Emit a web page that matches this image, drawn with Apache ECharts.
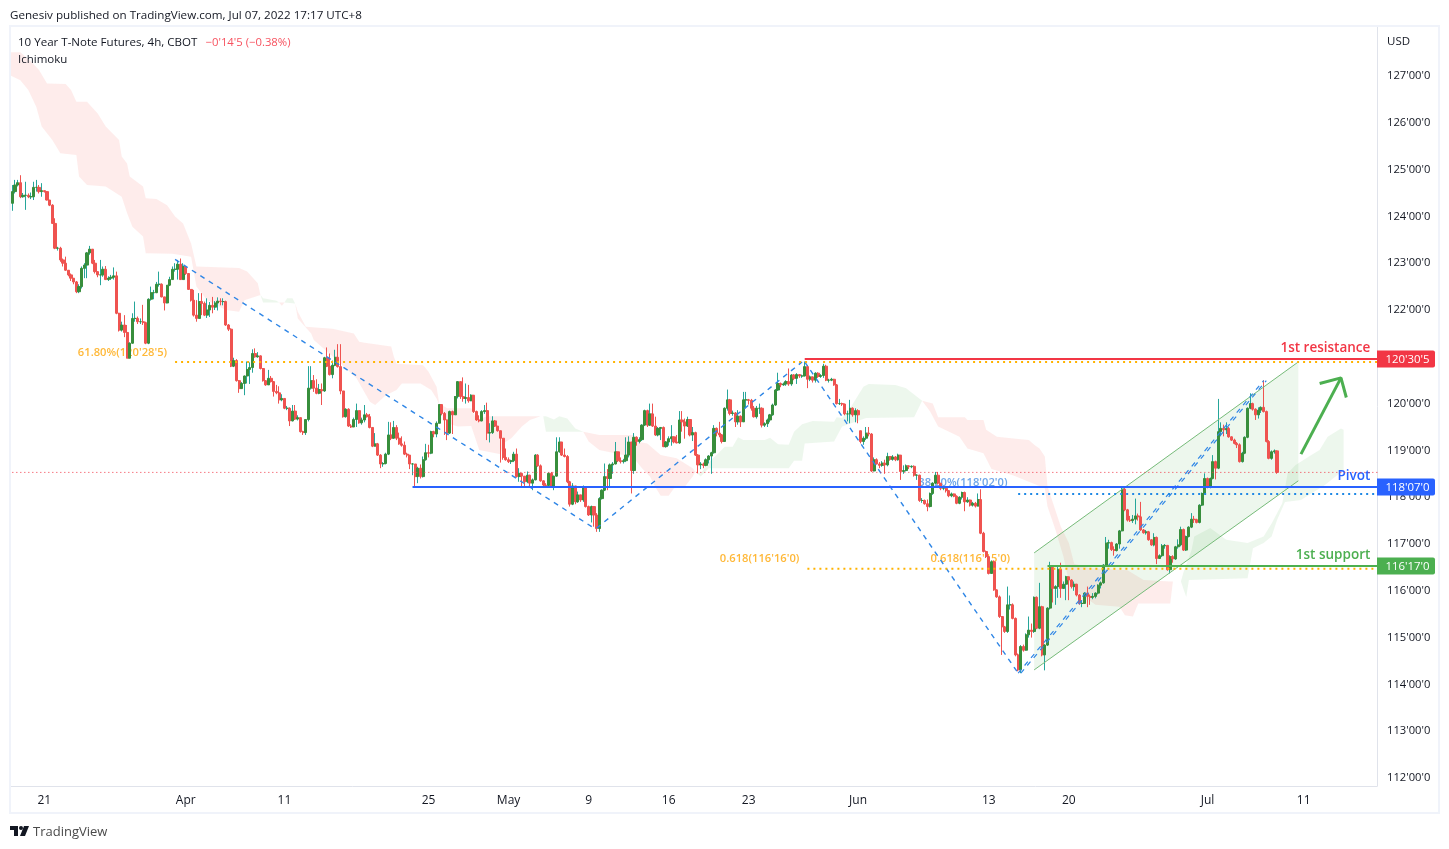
<!DOCTYPE html>
<html><head><meta charset="utf-8">
<style>html,body{margin:0;padding:0;background:#fff}#c{width:1449px;height:849px}</style>
<script src="https://cdn.jsdelivr.net/npm/echarts@6/dist/echarts.min.js"></script>
</head><body><div id="c"></div>
<script>
const firstOpen=124.28;
const gapOpens={318:119.42};
const closes=[
124.53,124.67,124.72,124.42,124.45,124.45,124.42,124.42,124.62,124.62,
124.53,124.55,124.53,124.35,124.24,123.85,123.32,123.32,123.07,123.00,
122.85,122.75,122.68,122.60,122.39,122.50,122.89,122.96,123.22,123.30,
123.00,122.82,122.75,122.75,122.87,122.65,122.68,122.70,122.73,121.93,
121.57,121.68,121.52,120.97,121.29,121.82,121.82,121.75,121.75,121.73,
121.29,122.23,122.37,122.37,122.55,122.55,122.28,122.15,122.53,122.65,
122.87,122.87,122.98,122.65,122.93,122.78,122.44,122.21,121.89,121.82,
122.18,122.14,121.89,122.00,122.10,122.06,122.15,122.19,122.18,122.18,
121.68,121.59,120.80,120.92,120.49,120.32,120.43,120.59,120.73,120.77,
121.07,121.00,121.02,120.75,120.49,120.40,120.54,120.47,120.26,120.23,
120.08,120.11,119.90,119.90,119.63,119.84,119.67,119.70,119.40,119.38,
119.66,120.33,120.49,120.33,120.22,120.30,120.27,120.98,120.80,120.62,
120.82,120.99,120.79,120.27,119.72,119.88,119.52,119.50,119.66,119.85,
119.59,119.65,119.76,119.72,119.49,119.09,119.14,118.90,118.71,118.72,
118.92,119.33,119.26,119.49,119.26,119.14,119.11,118.92,118.90,118.71,
118.71,118.44,118.62,118.44,118.80,118.95,118.94,119.40,119.35,119.58,
119.98,119.79,119.65,119.37,119.83,119.76,120.15,120.47,120.15,120.11,
120.13,120.06,120.18,119.83,119.65,119.63,119.83,119.85,119.37,119.38,
119.63,119.52,119.42,119.26,118.85,118.80,118.76,118.78,118.92,118.44,
118.51,118.45,118.33,118.47,118.30,118.37,118.90,118.67,118.35,118.26,
118.25,118.51,118.22,118.45,118.97,119.18,118.90,118.87,118.33,117.85,
118.24,117.90,118.05,117.94,118.22,117.80,117.62,117.80,117.62,117.33,
117.97,118.15,118.44,118.40,118.69,118.71,118.97,118.78,118.76,118.78,
118.90,119.18,118.57,119.28,119.19,119.23,119.54,119.85,119.54,119.78,
119.52,119.33,119.47,119.49,119.08,119.18,119.25,119.29,119.18,119.16,
119.65,119.61,119.52,119.66,119.33,119.38,118.90,118.69,118.71,118.68,
118.80,118.88,118.95,119.47,119.37,119.33,119.19,119.90,120.08,119.79,
119.80,119.61,119.73,119.61,120.08,120.08,120.07,119.90,119.72,119.90,
119.90,119.54,119.57,119.65,119.76,119.97,120.29,120.43,120.40,120.42,
120.47,120.42,120.61,120.54,120.62,120.59,120.59,120.79,120.52,120.57,
120.50,120.65,120.58,120.60,120.80,120.50,120.50,120.52,120.40,120.00,
120.00,119.99,119.78,119.78,119.90,119.76,119.85,119.76,119.19,119.26,
119.37,119.35,118.56,118.80,118.71,118.68,118.73,118.69,118.87,118.81,
118.86,118.80,118.90,118.55,118.57,118.67,118.65,118.66,118.47,118.47,
117.93,117.93,117.86,117.80,118.08,118.30,118.47,118.30,118.19,118.19,
118.14,118.03,118.07,118.02,117.87,118.00,118.10,117.90,117.94,117.83,
117.87,117.81,117.95,117.23,116.84,116.73,116.37,116.62,116.02,115.87,
115.45,115.23,115.13,115.70,115.70,115.41,114.63,114.31,114.81,114.73,
115.06,115.16,115.13,115.86,115.20,115.66,114.63,114.84,115.63,116.50,
116.05,116.09,116.46,116.05,116.14,116.30,116.23,116.09,116.14,115.91,
115.73,115.73,115.95,115.88,115.86,115.88,115.95,116.12,116.17,116.55,
117.02,117.03,116.88,116.86,117.00,117.28,118.17,117.73,117.51,117.50,
117.53,117.60,117.58,117.30,117.24,117.26,117.09,116.98,117.14,116.69,
116.75,116.96,116.97,116.45,116.73,116.68,116.94,116.98,117.31,116.87,
117.16,117.36,117.53,117.52,117.46,117.83,118.08,118.40,118.21,118.40,
118.76,118.62,119.40,119.47,119.44,119.47,119.29,119.22,119.15,119.12,
118.76,118.94,119.28,119.90,120.00,119.88,119.76,119.86,119.92,119.83,
119.19,118.83,118.97,118.99,118.53];
const highs=[
124.67,124.78,124.78,124.88,124.50,124.74,124.49,124.51,124.74,124.78,
124.67,124.71,124.55,124.53,124.35,124.26,123.96,123.35,123.35,123.10,
123.14,122.85,122.78,122.68,122.62,122.55,122.93,123.00,123.24,123.37,
123.30,123.07,122.82,123.07,122.93,122.94,122.72,122.75,122.91,122.82,
121.94,121.75,121.89,121.68,121.31,121.93,122.18,121.86,121.82,122.11,
121.75,122.25,122.50,122.43,122.60,122.82,122.57,122.28,122.53,122.71,
122.93,123.00,123.07,123.10,123.00,122.89,122.65,122.44,122.43,122.21,
122.36,122.36,122.18,122.25,122.17,122.28,122.19,122.27,122.25,122.25,
122.20,121.70,121.61,120.98,120.95,120.50,120.46,120.60,120.90,120.88,
121.16,121.18,121.10,121.03,120.76,120.50,120.72,120.59,120.48,120.40,
120.37,120.20,120.00,119.95,119.92,119.97,119.97,119.75,119.70,119.42,
119.66,120.80,120.80,120.61,120.52,120.42,120.43,121.00,121.20,121.07,
120.92,121.15,121.27,121.27,120.27,119.90,119.90,119.56,119.70,120.00,
119.85,119.70,119.97,119.80,119.78,119.49,119.37,119.16,118.92,118.75,
118.95,119.61,119.60,119.63,119.54,119.38,119.30,119.19,118.95,118.90,
118.73,118.71,118.65,118.70,118.87,119.14,119.12,119.42,119.42,119.62,
119.98,119.98,119.82,119.66,119.85,119.85,120.16,120.47,120.47,120.56,
120.43,120.40,120.20,120.18,119.85,119.75,119.86,119.97,120.02,119.58,
119.73,119.65,119.47,119.30,119.26,119.04,118.85,118.80,118.97,119.04,
118.62,118.52,118.45,118.55,118.48,118.40,118.92,118.92,118.70,118.36,
118.30,118.53,118.54,118.46,119.28,119.28,119.15,119.04,118.90,118.35,
118.30,118.20,118.12,118.05,118.25,118.22,117.82,117.82,117.80,117.66,
118.00,118.17,118.72,118.60,118.72,118.75,119.18,118.94,118.85,118.82,
119.28,119.30,119.18,119.37,119.30,119.28,119.56,119.87,119.87,120.00,
120.00,119.72,119.50,119.50,119.51,119.20,119.30,119.54,119.30,119.33,
119.84,119.84,119.68,119.72,119.66,119.50,119.40,118.92,118.75,118.74,
118.83,118.90,118.97,119.54,119.49,119.61,119.35,119.92,120.30,120.10,
119.85,119.82,119.86,119.75,120.25,120.25,120.10,120.10,119.95,119.95,
120.00,119.92,119.60,119.68,119.78,120.00,120.31,120.66,120.45,120.45,
120.50,120.75,120.63,120.63,120.65,120.63,120.62,120.90,120.82,120.60,
120.58,120.67,120.67,120.63,120.85,120.83,120.53,120.55,120.53,120.42,
120.10,120.02,120.00,119.85,120.08,119.92,119.90,119.88,119.42,119.30,
119.50,119.50,119.37,118.85,118.83,118.75,118.77,118.80,118.95,118.88,
118.90,118.88,118.93,118.90,118.68,118.70,118.68,118.68,118.68,118.49,
118.48,117.98,117.95,117.95,118.10,118.32,118.54,118.54,118.30,118.22,
118.20,118.15,118.10,118.08,118.04,118.02,118.12,118.12,118.00,117.95,
117.90,117.90,118.08,118.17,117.26,116.86,116.75,116.65,116.65,116.03,
115.90,115.46,115.25,116.09,115.90,115.73,115.43,114.66,114.84,114.85,
115.09,115.45,115.30,115.88,115.88,116.17,115.68,114.86,115.65,116.62,
116.52,116.12,116.55,116.60,116.20,116.32,116.30,116.25,116.20,116.15,
115.93,115.80,115.97,116.09,115.92,115.95,115.97,116.14,116.20,116.57,
117.15,117.09,117.05,116.95,117.02,117.30,118.20,118.23,117.75,117.60,
117.62,117.97,117.65,117.90,117.32,117.30,117.28,117.10,117.23,117.16,
116.78,117.00,117.00,116.98,116.76,116.76,116.96,117.10,117.37,117.33,
117.18,117.38,117.66,117.60,117.54,117.85,118.10,118.51,118.42,118.42,
118.90,118.78,120.10,119.60,119.55,119.60,119.50,119.30,119.25,119.18,
119.15,118.97,119.30,119.92,120.22,120.02,119.90,119.92,119.94,120.50,
119.85,119.22,119.00,119.02,119.00];
const lows=[
124.12,124.49,124.64,124.39,124.40,124.14,124.39,124.37,124.35,124.53,
124.49,124.42,124.51,124.34,124.22,123.84,123.30,123.27,123.03,122.93,
122.84,122.72,122.62,122.55,122.36,122.36,122.46,122.68,122.68,123.18,
122.98,122.78,122.70,122.53,122.71,122.64,122.62,122.64,122.65,121.91,
121.54,121.54,121.42,120.97,120.97,121.28,121.75,121.70,121.70,121.68,
121.27,121.27,122.20,122.23,122.36,122.50,122.27,121.99,122.14,122.51,
122.65,122.82,122.65,122.65,122.65,122.75,122.43,122.18,121.86,121.75,
121.82,121.89,121.87,121.83,121.85,121.93,122.00,121.99,122.10,122.10,
121.66,121.55,120.78,120.78,120.47,120.23,120.32,120.18,120.43,120.42,
120.66,120.98,120.98,120.73,120.47,120.38,120.42,120.45,120.15,120.20,
120.00,120.05,119.88,119.86,119.52,119.62,119.65,119.64,119.38,119.33,
119.33,119.62,120.30,120.25,120.20,120.20,119.97,120.25,120.78,120.60,
120.54,120.80,120.77,120.20,119.70,119.70,119.50,119.48,119.50,119.50,
119.57,119.55,119.60,119.70,119.47,119.07,119.08,118.88,118.62,118.65,
118.70,118.90,119.22,119.25,119.22,119.12,119.08,118.90,118.85,118.60,
118.47,118.22,118.30,118.40,118.42,118.78,118.85,118.92,119.28,119.28,
119.58,119.75,119.33,119.22,119.35,119.35,119.76,120.11,120.10,120.04,
120.00,120.02,120.05,119.80,119.63,119.60,119.62,119.78,119.22,119.17,
119.35,119.50,119.40,118.74,118.80,118.78,118.73,118.71,118.75,118.42,
118.33,118.22,118.22,118.30,118.20,118.15,118.36,118.65,118.33,118.20,
118.20,118.22,118.20,118.15,118.44,118.95,118.88,118.85,118.30,117.80,
117.83,117.85,117.88,117.90,117.90,117.78,117.60,117.46,117.37,117.26,
117.26,117.95,118.13,118.15,118.22,118.50,118.70,118.75,118.72,118.72,
118.75,118.85,118.08,118.50,119.10,119.15,119.20,119.52,119.50,119.52,
119.50,119.31,119.30,119.22,119.07,119.06,119.10,119.10,119.15,119.15,
119.14,119.40,119.25,119.50,119.30,119.20,118.88,118.51,118.60,118.62,
118.66,118.72,118.50,118.93,119.30,119.28,119.15,119.18,119.85,119.75,
119.74,119.50,119.55,119.50,119.65,119.90,119.98,119.85,119.70,119.68,
119.78,119.49,119.50,119.50,119.60,119.74,119.95,120.27,120.35,120.38,
120.38,120.38,120.38,120.50,120.42,120.55,120.55,120.58,120.33,120.48,
120.45,120.45,120.55,120.55,120.55,120.48,120.45,120.48,120.38,119.98,
119.97,119.95,119.75,119.62,119.58,119.72,119.60,119.58,119.15,119.12,
119.22,119.30,118.54,118.55,118.70,118.62,118.65,118.50,118.66,118.78,
118.78,118.77,118.78,118.37,118.50,118.55,118.60,118.62,118.44,118.37,
117.90,117.88,117.84,117.70,117.78,118.05,118.28,118.27,118.15,118.15,
118.10,118.00,118.00,118.00,117.85,117.85,117.95,117.70,117.88,117.80,
117.80,117.78,117.80,117.21,116.82,116.70,116.35,116.37,116.00,115.85,
115.42,114.63,115.10,115.10,115.60,115.39,114.60,114.28,114.24,114.70,
114.72,115.00,115.00,115.10,115.18,115.18,114.60,114.30,114.82,115.60,
115.75,115.70,115.85,115.85,116.05,115.80,115.80,116.05,116.00,115.88,
115.70,115.65,115.72,115.65,115.70,115.82,115.84,115.92,116.05,116.15,
116.53,116.90,116.85,116.75,116.84,116.90,117.27,117.70,117.48,117.47,
117.45,117.42,117.50,117.28,117.22,117.20,117.07,116.96,116.95,116.57,
116.68,116.72,116.90,116.43,116.37,116.60,116.66,116.90,116.95,116.85,
116.85,117.14,117.34,117.45,117.44,117.44,117.81,118.06,118.19,118.19,
118.38,118.38,118.60,119.30,119.30,119.35,119.27,119.20,119.13,119.05,
118.74,118.74,118.92,119.26,119.88,119.85,119.65,119.68,119.80,119.81,
119.17,118.81,118.80,118.93,118.50];

const timeLabels=['21','Apr','11','25','May','9','16','23','Jun','13','20','Jul','11'];
const timeIndexes=[12,65,102,156,186,216,246,276,317,366,396,448,484];
const priceTicks=[112,113,114,115,116,117,118,119,120,122,123,124,125,126,127];

const redCloudAUpper=[[-1,127.51],[3,127.51],[7,127.31],[10,127.13],[13,126.84],[20,126.83],[22,126.70],[24,126.45],[28,126.45],[32,126.20],[35,125.92],[40,125.63],[41,125.28],[43,125.13],[44,124.85],[49,124.64],[50,124.39],[54,124.37],[58,124.24],[61,124.00],[64,123.85],[67,123.42],[69,122.93],[85,122.90],[88,122.82],[92,122.57],[93,122.32]];
const redCloudALower=[[-1,127.02],[3,126.91],[6,126.70],[9,126.34],[11,125.92],[15,125.63],[18,125.35],[24,125.31],[25,124.85],[28,124.67],[35,124.64],[41,124.42],[43,124.07],[45,123.78],[49,123.57],[50,123.21],[60,123.20],[67,123.14],[69,122.50],[73,122.21],[80,122.00],[85,121.96],[87,122.21],[93,122.32]];
const greenCloudAUpper=[[93,122.32],[94,122.25],[99,122.20],[100,122.16]];
const greenCloudALower=[[93,122.32],[94,122.16],[100,122.16]];
const redCloudSmallUpper=[[100,122.16],[102,122.16]];
const redCloudSmallLower=[[100,122.16],[101,122.09],[102,122.16]];
const greenCloudBUpper=[[102,122.16],[103,122.25],[105,122.25],[106,122.14]];
const greenCloudBLower=[[102,122.16],[106,122.14]];
const redCloudBUpper=[[106,122.14],[107,121.96],[110,121.64],[120,121.60],[128,121.50],[130,121.32],[132,121.30],[142,121.22],[143,121.00],[144,120.85],[154,120.82],[156,120.68],[159,120.36],[160,120.00],[163,119.90],[172,119.90],[174,119.65],[178,119.73],[198,119.73]];
const redCloudBLower=[[106,122.14],[107,121.82],[112,121.50],[113,121.36],[123,120.86],[129,120.54],[134,120.04],[136,119.97],[140,120.18],[144,120.29],[146,120.43],[153,120.43],[157,120.29],[159,120.11],[163,119.58],[167,119.51],[172,119.52],[175,119.01],[183,118.92],[184,119.15],[187,119.26],[191,119.51],[194,119.65],[198,119.73]];
const greenCloudCUpper=[[199,119.73],[200,119.73],[203,119.66],[205,119.73],[208,119.68],[211,119.47],[214,119.40]];
const greenCloudCLower=[[199,119.73],[200,119.40],[214,119.40]];
const redCloudDUpper=[[214,119.40],[220,119.33],[233,119.33],[234,119.19],[238,119.15],[243,118.90],[249,118.83],[255,118.62],[256,118.55]];
const redCloudDLower=[[214,119.40],[216,119.19],[220,119.01],[229,118.90],[233,118.83],[236,118.62],[239,118.44],[241,118.22],[243,118.03],[246,118.03],[248,118.19],[252,118.22],[255,118.44],[256,118.55]];
const greenCloudEUpper=[[256,118.55],[258,118.51],[262,118.80],[264,118.90],[267,119.08],[270,119.08],[272,119.28],[274,119.22],[282,119.22],[284,119.27],[287,119.13],[291,119.12],[293,119.40],[296,119.56],[300,119.63],[308,119.61],[309,119.71],[311,119.69],[313,119.81],[316,120.08],[319,120.36],[321,120.42],[331,120.40],[335,120.33],[341,120.06]];
const greenCloudELower=[[256,118.55],[258,118.44],[261,118.62],[291,118.62],[293,118.78],[296,118.78],[297,119.15],[308,119.19],[311,119.51],[320,119.69],[338,119.71],[341,120.06]];
const redCloudFUpper=[[341,120.06],[345,120.00],[347,119.71],[357,119.71],[358,119.65],[364,119.65],[365,119.44],[369,119.29],[378,119.24],[381,119.22],[383,119.12],[385,119.04],[387,118.87],[388,118.23],[393,117.37],[396,117.02],[398,116.58],[404,116.48],[418,116.44],[424,116.23],[434,116.20],[438,116.20]];
const redCloudFLower=[[341,120.06],[344,119.83],[347,119.51],[355,119.29],[358,119.04],[364,118.94],[367,118.60],[375,118.47],[387,118.19],[388,117.80],[391,117.30],[394,116.73],[396,116.20],[400,115.95],[406,115.70],[415,115.66],[417,115.48],[420,115.45],[422,115.73],[434,115.73],[435,116.20],[438,116.20]];
const greenCloudGUpper=[[438,116.20],[439,116.40],[442,116.87],[443,117.16],[449,117.34],[455,117.09],[463,117.02],[469,117.16],[472,117.44],[476,117.87],[478,118.51],[481,118.69],[486,118.87],[490,119.01],[493,119.29],[498,119.47],[499,119.44]];
const greenCloudGLower=[[438,116.20],[440,115.87],[441,116.23],[463,116.27],[465,116.91],[469,117.02],[472,117.16],[474,117.51],[477,117.90],[483,117.94],[492,118.26],[499,118.58]];

const channelUpper=[[383,116.81],[482,120.89]];
const channelLower=[[383,114.31],[482,118.35]];
const trendDown1=[[61,123.08],[218,117.34]];
const trendUp1=[[219,117.34],[296,120.89]];
const trendDown2=[[297,120.89],[377,114.24]];
const trendUp2=[[377,114.24],[469,120.49]];
const trendUp3=[[378,114.24],[470,120.49]];
const resistanceLine=[[297,120.953],[513,120.953]];
const fib618Line=[[61,120.89],[513,120.89]];
const pivotLine=[[150,118.22],[513,118.22]];
const pivotDotted=[[377,118.07],[513,118.07]];
const supportLine=[[388,116.53],[513,116.53]];
const supportDotted=[[298,116.47],[513,116.47]];
const arrowShaft=[[483,118.92],[498,120.55]];
const arrowHead=[[490,120.43],[498,120.55],[500,120.13]];

const annotText=["61.80%(120'28'5)","38.20%(118'02'0)","0.618(116'16'0)","0.618(116'15'0)","1st resistance","Pivot","1st support"];
const annotAt=[[58,121.10],[373,118.32],[295,116.70],[374,116.70],[508.6,121.20],[508.6,118.47],[508.6,116.79]];
const annotColor=['#ffb838','#6ea6e8','#ffb838','#ffb838','#f23645','#2962ff','#4caf50'];
const annotBold=[false,false,false,false,true,true,true];

const tagPrices=[120.953,118.22,116.53];
const tagLabels=["120'30'5","118'07'0","116'17'0"];
const tagColors=['#f23645','#2962ff','#4caf50'];

const FONT='"Open Sans","Noto Sans",sans-serif';
const N=512;
const categories=Array.from({length:N},(_,i)=>{const k=timeIndexes.indexOf(i);return k<0?'':timeLabels[k];});
const opens=closes.map((c,i)=>gapOpens[i]!==undefined?gapOpens[i]:(i===0?firstOpen:closes[i-1]));
const wickData=closes.map((c,i)=>[opens[i],c,Math.min(lows[i],opens[i],c),Math.max(highs[i],opens[i],c)]);
const bodyData=closes.map((c,i)=>[opens[i],c,Math.min(opens[i],c),Math.max(opens[i],c)]);

function poly(name,upper,lower,fill,z){return {type:'custom',name,silent:true,z:z||1,clip:true,animation:false,data:[[0,120]],
  encode:{x:0,y:1},
  renderItem(p,api){const pts=upper.concat(lower.slice().reverse()).map(q=>api.coord(q));
    return {type:'polygon',shape:{points:pts},style:{fill}};}};}
function line(name,data,color,width,dash,z){return {type:'line',name,data,showSymbol:false,symbol:'none',silent:true,animation:false,z:z||5,
  lineStyle:{color,width,type:dash||'solid',cap:'butt'}};}
const RED='rgba(244,67,54,0.10)',GREEN='rgba(76,175,80,0.10)';

const series=[
 poly('cloudRedA',redCloudAUpper,redCloudALower,RED),
 poly('cloudGreenA',greenCloudAUpper,greenCloudALower,GREEN),
 poly('cloudRedSmall',redCloudSmallUpper,redCloudSmallLower,RED),
 poly('cloudGreenB',greenCloudBUpper,greenCloudBLower,GREEN),
 poly('cloudRedB',redCloudBUpper,redCloudBLower,RED),
 poly('cloudGreenC',greenCloudCUpper,greenCloudCLower,GREEN),
 poly('cloudRedD',redCloudDUpper,redCloudDLower,RED),
 poly('cloudGreenE',greenCloudEUpper,greenCloudELower,GREEN),
 poly('cloudRedF',redCloudFUpper,redCloudFLower,RED),
 poly('cloudGreenG',greenCloudGUpper,greenCloudGLower,GREEN),
 poly('channel',channelUpper,channelLower,'rgba(76,175,80,0.10)',1),
 {type:'custom',name:'annotations',silent:true,z:2,clip:false,animation:false,
  data:annotAt,encode:{x:0,y:1},
  renderItem(p,api){const c=api.coord([api.value(0),api.value(1)]);const k=p.dataIndex;
    return {type:'text',x:c[0],y:c[1]+1,style:{text:annotText[k],fill:annotColor[k],align:'right',verticalAlign:'middle',
      font:(annotBold[k]?'600 13.5px ':'600 11.2px ')+FONT}};}},
 {type:'candlestick',name:'wicks',data:wickData,barWidth:1,z:3,silent:true,animation:false,
  itemStyle:{color:'#26a69a',color0:'#ef5350',borderColor:'#26a69a',borderColor0:'#ef5350',borderWidth:1}},
 {type:'candlestick',name:'bodies',data:bodyData,barWidth:2.6,z:4,silent:true,animation:false,
  itemStyle:{color:'#388e3c',color0:'#ef5350',borderColor:'#388e3c',borderColor0:'#ef5350',borderWidth:1}},
 line('channelTop',channelUpper,'#76bb79',1),
 line('channelBottom',channelLower,'#76bb79',1),
 line('trendDown1',trendDown1,'#2f86e6',1.4,[5,5]),
 line('trendUp1',trendUp1,'#2f86e6',1.4,[5,5]),
 line('trendDown2',trendDown2,'#2f86e6',1.4,[5,5]),
 line('trendUp2',trendUp2,'#2f86e6',1.2,[5,5]),
 line('trendUp3',trendUp3,'#2f86e6',1.2,[5,5]),
 line('currentPrice',[[0,closes[closes.length-1]],[513,closes[closes.length-1]]],'#f23645',1,[1,3]),
 line('resistance',resistanceLine,'#f23645',2),
 line('fib618',fib618Line,'#ffb300',2,[2,4]),
 line('pivot',pivotLine,'#2962ff',2),
 line('pivotDotted',pivotDotted,'#1e88e5',2,[2,4]),
 line('support',supportLine,'#4caf50',2),
 line('supportDotted',supportDotted,'#ffb300',2,[2,4]),
 line('arrowShaft',arrowShaft,'#4caf50',3),
 line('arrowHead',arrowHead,'#4caf50',3),
 {type:'custom',name:'priceTags',silent:true,z:9,clip:false,animation:false,
  data:tagPrices.map(v=>[0,v]),encode:{x:0,y:1},
  renderItem(p,api){const y=api.coord([0,api.value(1)])[1];const x=p.coordSys.x+p.coordSys.width;const k=p.dataIndex;
    return {type:'group',children:[
      {type:'rect',shape:{x:x,y:y-8.5,width:58,height:17,r:[0,2,2,0]},style:{fill:tagColors[k]}},
      {type:'text',x:x+30.5,y:y+1,style:{text:tagLabels[k],fill:'#fff',align:'center',verticalAlign:'middle',font:'11.4px '+FONT}}]};}}
];

const txt=(x,y,text,fill,size)=>({type:'text',x,y,style:{text,fill,font:(size||11.5)+'px '+FONT,verticalAlign:'middle'},z:20});
const chart=echarts.init(document.getElementById('c'));
chart.setOption({
 animation:false,backgroundColor:'#fff',
 grid:{left:11,right:72,top:27,bottom:63,containLabel:false},
 xAxis:{type:'category',data:categories,boundaryGap:true,
   axisLine:{show:true,lineStyle:{color:'#e0e3eb',width:1}},axisTick:{show:false},splitLine:{show:false},
   axisLabel:{interval:0,hideOverlap:false,color:'#131722',fontSize:12,fontFamily:FONT,margin:9}},
 yAxis:{type:'value',position:'right',min:111.829,max:128.047,scale:true,
   axisLine:{show:true,lineStyle:{color:'#e0e3eb',width:1}},axisTick:{show:false},splitLine:{show:false},
   axisLabel:{customValues:priceTicks,color:'#131722',fontSize:11.2,fontFamily:FONT,margin:10,padding:[2,0,0,0],
     formatter:v=>Math.round(v)+"'00'0"}},
 series,
 graphic:[
  {type:'rect',shape:{x:10,y:26,width:1429,height:787},style:{fill:'none',stroke:'#f0f3fa',lineWidth:2},z:19,silent:true},
  txt(10,16,'Genesiv published on TradingView.com, Jul 07, 2022 17:17 UTC+8','#131722',11.63),
  txt(18,43,'10 Year T-Note Futures, 4h, CBOT','#131722',11.55),
  txt(205.5,43,"\u22120'14'5 (\u22120.38%)",'#f7525f',11.3),
  txt(18,60,'Ichimoku','#131722',11.5),
  txt(1387,42,'USD','#131722',11.5),
  {type:'polygon',shape:{points:[[10,826],[18,826],[18,836],[14,836],[14,830],[10,830]]},style:{fill:'#131722'},z:20},
  {type:'circle',shape:{cx:21,cy:828,r:2},style:{fill:'#131722'},z:20},
  {type:'polygon',shape:{points:[[24,826],[29,826],[25,836],[20,836]]},style:{fill:'#131722'},z:20},
  txt(33,832,'TradingView','#4a4a4a',13)
 ]
});
</script></body></html>
